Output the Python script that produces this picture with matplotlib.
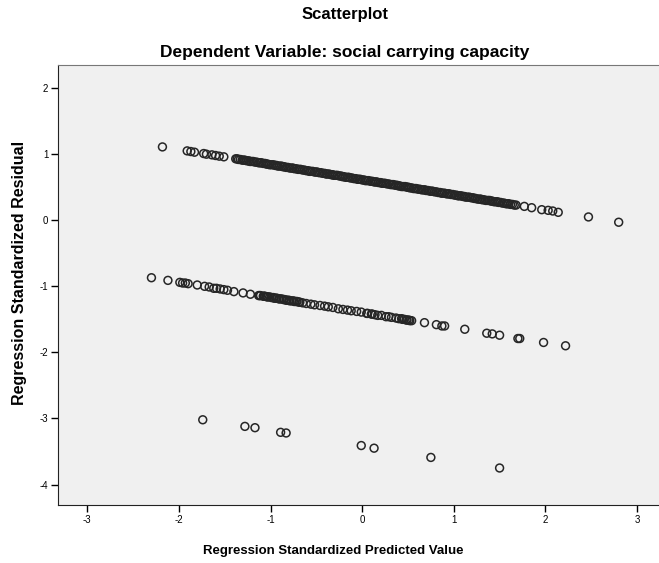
import matplotlib

matplotlib.use('Agg')
import matplotlib.pyplot as plt

plt.rcParams['font.family'] = ['Liberation Sans', 'DejaVu Sans']
plt.rcParams['axes.unicode_minus'] = False

# upper band of residuals
upper_x = [-2.18, -1.91, -1.87, -1.83, -1.73, -1.70, -1.64, -1.60, -1.56, -1.51,
           -1.38, -1.35, -1.31, -1.28, -1.24, -1.21, -1.17, -1.13, -1.10, -1.06,
           -1.03, -0.99, -0.95, -0.92, -0.88, -0.85, -0.81, -0.77, -0.74, -0.70,
           -0.67, -0.63, -0.59, -0.56, -0.52, -0.49, -0.45, -0.41, -0.38, -0.34,
           -0.31, -0.27, -0.23, -0.20, -0.16, -0.13, -0.09, -0.05, -0.02, 0.02,
           0.05, 0.09, 0.13, 0.16, 0.20, 0.23, 0.27, 0.31, 0.34, 0.38,
           0.41, 0.45, 0.49, 0.52, 0.56, 0.59, 0.63, 0.67, 0.70, 0.74,
           0.77, 0.81, 0.85, 0.88, 0.92, 0.95, 0.99, 1.03, 1.06, 1.10,
           1.13, 1.17, 1.21, 1.24, 1.28, 1.31, 1.35, 1.39, 1.42, 1.46,
           1.49, 1.53, 1.57, 1.60, 1.64, 1.68,
           1.77, 1.85, 1.96, 2.03, 2.08, 2.14, 2.47, 2.80,
           # cases lying between the ones above in the dense part
           -1.365, -1.33, -1.295, -1.26, -1.225, -1.19, -1.15, -1.115, -1.08, -1.045,
           -1.01, -0.97, -0.935, -0.90, -0.865, -0.83, -0.79, -0.755, -0.72, -0.685,
           -0.65, -0.61, -0.575, -0.54, -0.505, -0.47, -0.43, -0.395, -0.36, -0.325,
           -0.29, -0.25, -0.215, -0.18, -0.145, -0.11, -0.07, -0.035, 0.00, 0.035,
           0.07, 0.11, 0.145, 0.18, 0.215, 0.25, 0.29, 0.325, 0.36, 0.395,
           0.43, 0.47, 0.505, 0.54, 0.575, 0.61, 0.65, 0.685, 0.72, 0.755,
           0.79, 0.83, 0.865, 0.90, 0.935, 0.97, 1.01, 1.045, 1.08, 1.115,
           1.15, 1.19, 1.225, 1.26, 1.295, 1.33, 1.37, 1.405, 1.44, 1.475,
           1.51, 1.55, 1.585, 1.62, 1.66]
upper_y = [1.11, 1.05, 1.04, 1.03, 1.01, 1.00, 0.99, 0.98, 0.97, 0.96,
           0.93, 0.92, 0.91, 0.91, 0.90, 0.89, 0.88, 0.87, 0.87, 0.86,
           0.85, 0.84, 0.83, 0.82, 0.82, 0.81, 0.80, 0.79, 0.78, 0.77,
           0.77, 0.76, 0.75, 0.74, 0.73, 0.73, 0.72, 0.71, 0.70, 0.69,
           0.68, 0.68, 0.67, 0.66, 0.65, 0.64, 0.63, 0.62, 0.62, 0.61,
           0.60, 0.59, 0.58, 0.58, 0.57, 0.56, 0.55, 0.54, 0.54, 0.53,
           0.52, 0.51, 0.50, 0.49, 0.48, 0.48, 0.47, 0.46, 0.45, 0.44,
           0.44, 0.43, 0.42, 0.41, 0.40, 0.40, 0.39, 0.38, 0.37, 0.36,
           0.35, 0.35, 0.34, 0.33, 0.32, 0.31, 0.30, 0.30, 0.29, 0.28,
           0.27, 0.26, 0.25, 0.25, 0.24, 0.23,
           0.21, 0.19, 0.16, 0.15, 0.14, 0.12, 0.05, -0.03,
           0.93, 0.92, 0.91, 0.90, 0.89, 0.89, 0.88, 0.87, 0.86, 0.85,
           0.84, 0.84, 0.83, 0.82, 0.81, 0.80, 0.79, 0.79, 0.78, 0.77,
           0.76, 0.75, 0.74, 0.74, 0.73, 0.72, 0.71, 0.70, 0.70, 0.69,
           0.68, 0.67, 0.66, 0.65, 0.65, 0.64, 0.63, 0.62, 0.61, 0.60,
           0.60, 0.59, 0.58, 0.57, 0.56, 0.56, 0.55, 0.54, 0.53, 0.52,
           0.51, 0.51, 0.50, 0.49, 0.48, 0.47, 0.46, 0.46, 0.45, 0.44,
           0.43, 0.42, 0.41, 0.41, 0.40, 0.39, 0.38, 0.37, 0.37, 0.36,
           0.35, 0.34, 0.33, 0.32, 0.32, 0.31, 0.30, 0.29, 0.28, 0.28,
           0.27, 0.26, 0.25, 0.24, 0.23]

# middle band
middle_x = [-2.30, -2.12, -1.99, -1.96, -1.93, -1.90, -1.80, -1.72, -1.67, -1.62,
            -1.59, -1.55, -1.51, -1.47, -1.40, -1.30, -1.22, -1.13, -1.11, -1.08,
            -1.06, -1.03, -0.99, -0.96, -0.93, -0.90, -0.88, -0.85, -0.82, -0.79,
            -0.77, -0.74, -0.71, -0.68, -0.65, -0.61, -0.56, -0.52, -0.46, -0.41,
            -0.37, -0.32, -0.26, -0.21, -0.16, -0.12, -0.06, -0.01, 0.05, 0.10,
            0.14, 0.17, 0.21, 0.26, 0.29, 0.32, 0.37, 0.40, 0.43, 0.46,
            0.48, 0.51, 0.54, 0.68, 0.81, 0.87, 0.90, 1.12, 1.36, 1.42,
            1.50, 1.70, 1.72, 1.98, 2.22,
            -1.12, -1.07, -1.04, -1.01, -0.97, -0.94, -0.91, -0.86, -0.83, -0.80,
            -0.75, -0.72, -0.69, 0.06, 0.11, 0.44, 0.49, 0.52]
middle_y = [-0.87, -0.91, -0.94, -0.95, -0.95, -0.96, -0.98, -1.00, -1.01, -1.03,
            -1.03, -1.04, -1.05, -1.06, -1.08, -1.10, -1.12, -1.14, -1.14, -1.15,
            -1.15, -1.16, -1.17, -1.18, -1.18, -1.19, -1.19, -1.20, -1.21, -1.22,
            -1.22, -1.23, -1.23, -1.24, -1.25, -1.26, -1.27, -1.28, -1.29, -1.30,
            -1.31, -1.32, -1.34, -1.35, -1.36, -1.37, -1.38, -1.39, -1.41, -1.42,
            -1.43, -1.44, -1.44, -1.46, -1.46, -1.47, -1.48, -1.49, -1.49, -1.50,
            -1.51, -1.51, -1.52, -1.55, -1.58, -1.60, -1.60, -1.65, -1.71, -1.72,
            -1.74, -1.79, -1.79, -1.85, -1.90,
            -1.14, -1.15, -1.16, -1.16, -1.17, -1.18, -1.19, -1.20, -1.21, -1.21,
            -1.22, -1.23, -1.24, -1.41, -1.42, -1.50, -1.51, -1.52]

# lowest band
lower_x = [-1.74, -1.28, -1.17, -0.89, -0.83, -0.01, 0.13, 0.75, 1.50]
lower_y = [-3.02, -3.12, -3.14, -3.21, -3.22, -3.41, -3.45, -3.59, -3.75]

x_ticks = [-3, -2, -1, 0, 1, 2, 3]
y_ticks = [-4, -3, -2, -1, 0, 1, 2]

fig = plt.figure(figsize=(6.59, 5.63), dpi=100)
ax = fig.add_axes([58 / 659, 58 / 563, 601 / 659, 440 / 563])
ax.set_facecolor('#f0f0f0')

for xs, ys in [(upper_x, upper_y), (middle_x, middle_y), (lower_x, lower_y)]:
    ax.scatter(xs, ys, s=32, facecolors='none', edgecolors='#262626', linewidths=1.1)

ax.set_xlim(-3.32, 3.24)
ax.set_ylim(-4.31, 2.35)
ax.set_xticks(x_ticks)
ax.set_yticks(y_ticks)
ax.tick_params(direction='out', length=5, width=1, labelsize=7, pad=2)

ax.spines['right'].set_visible(False)
ax.spines['top'].set_color('#777777')
for side in ['left', 'bottom']:
    ax.spines[side].set_color('#222222')

ax.set_xlabel('Regression Standardized Predicted Value', fontsize=9.5, fontweight='bold')
ax.set_ylabel('Regression Standardized Residual', fontsize=11.5, fontweight='bold')
ax.xaxis.set_label_coords(0.458, -0.09)
ax.yaxis.set_label_coords(-0.052, 0.527)

fig.text(0.523, 1 - 15 / 563, 'Scatterplot', ha='center', va='center', fontsize=12, fontweight='bold')
fig.text(0.523, 1 - 52 / 563, 'Dependent Variable: social carrying capacity',
         ha='center', va='center', fontsize=12.5, fontweight='bold')

fig.savefig('out.png', dpi=100)
